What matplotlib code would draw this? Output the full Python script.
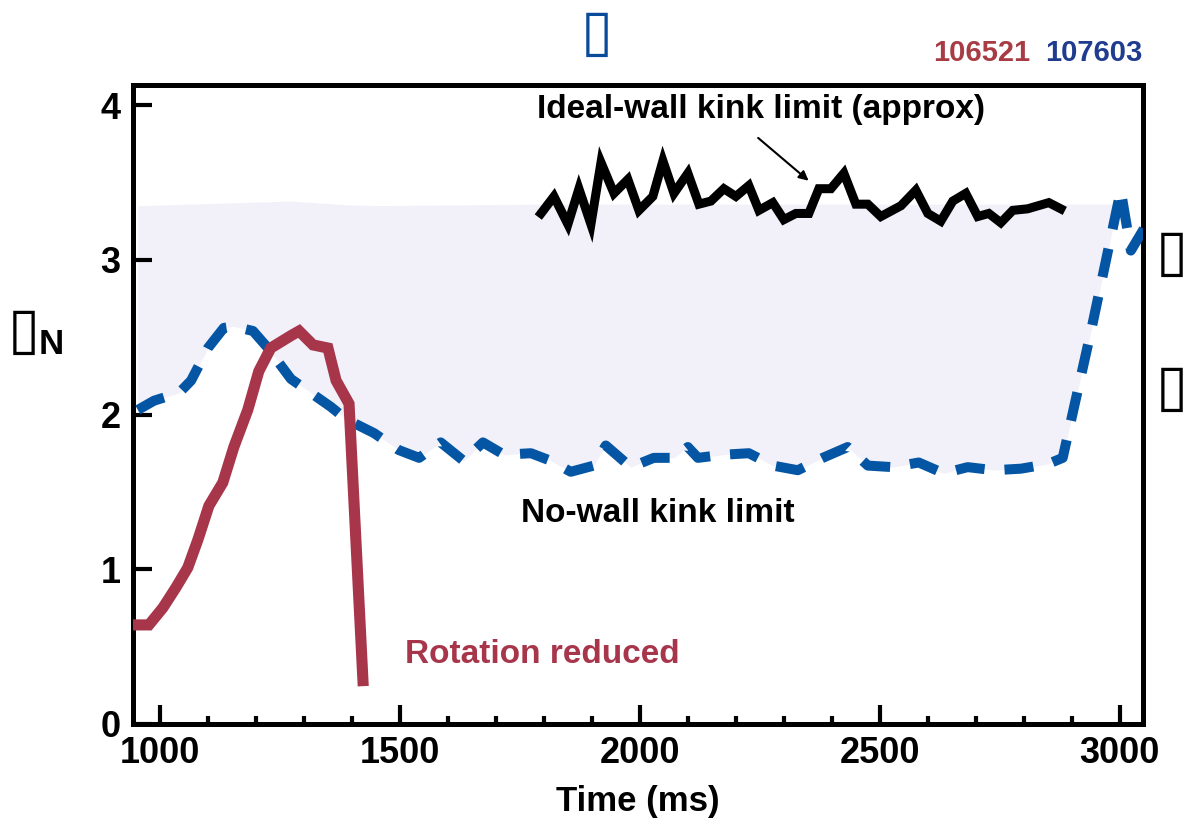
import numpy as np
import matplotlib
matplotlib.use("Agg")
import matplotlib.pyplot as plt
from matplotlib.ticker import MultipleLocator

plt.rcParams['font.family'] = ['Liberation Sans', 'DejaVu Sans']
plt.rcParams['font.weight'] = 'bold'
plt.rcParams['axes.labelweight'] = 'bold'

# no-wall kink limit (shot 107603), blue dashed
nw_t = [954, 988, 1040, 1065, 1100, 1133, 1154, 1194, 1225, 1273, 1310, 1356, 1388,
        1446, 1498, 1540, 1585, 1633, 1673, 1717, 1773, 1815, 1856, 1904, 1929, 1981,
        2029, 2071, 2100, 2121, 2173, 2227, 2277, 2329, 2381, 2433, 2475, 2527, 2581,
        2633, 2683, 2738, 2794, 2850, 2881, 2940, 3002, 3023, 3050]
nw_beta = [2.03, 2.09, 2.14, 2.22, 2.43, 2.56, 2.57, 2.54, 2.43, 2.23, 2.15, 2.05, 1.97,
           1.88, 1.77, 1.72, 1.82, 1.70, 1.82, 1.74, 1.75, 1.70, 1.63, 1.67, 1.80, 1.66,
           1.72, 1.72, 1.79, 1.72, 1.74, 1.75, 1.67, 1.64, 1.72, 1.79, 1.67, 1.66, 1.69,
           1.62, 1.66, 1.64, 1.65, 1.68, 1.72, 2.54, 3.45, 3.06, 3.20]

# ideal-wall kink limit, black
iw_t = [1794, 1821, 1850, 1873, 1898, 1919, 1946, 1975, 1998, 2027, 2048, 2071, 2100,
        2123, 2148, 2175, 2200, 2227, 2248, 2277, 2300, 2325, 2352, 2373, 2398, 2425,
        2450, 2475, 2502, 2544, 2575, 2600, 2627, 2652, 2679, 2704, 2727, 2752, 2777,
        2808, 2852, 2877]
iw_beta = [3.30, 3.41, 3.23, 3.46, 3.23, 3.63, 3.43, 3.52, 3.32, 3.41, 3.64, 3.43, 3.56,
           3.36, 3.38, 3.46, 3.41, 3.48, 3.32, 3.37, 3.26, 3.30, 3.30, 3.46, 3.46, 3.56,
           3.36, 3.36, 3.28, 3.35, 3.45, 3.30, 3.25, 3.38, 3.43, 3.28, 3.30, 3.24, 3.32,
           3.33, 3.37, 3.33]

# shot 106521, rotation reduced, red
rot_t = [950, 977, 1006, 1033, 1058, 1079, 1102, 1131, 1154, 1183, 1206, 1231, 1273,
         1290, 1319, 1350, 1367, 1394, 1423]
rot_beta = [0.64, 0.64, 0.75, 0.88, 1.01, 1.19, 1.41, 1.56, 1.79, 2.03, 2.28, 2.43, 2.51,
            2.54, 2.45, 2.43, 2.22, 2.07, 0.28]

# top of shaded stable window
shade_t = [954, 1273, 1419, 1794, 3002]
shade_top = [3.35, 3.38, 3.35, 3.36, 3.36]

red = '#a8364b'
blue = '#0455a4'

fig = plt.figure(figsize=(11.88, 8.34), dpi=100)
ax = fig.add_axes([0.112, 0.132, 0.850, 0.766])

tt = np.array(nw_t, float)
top = np.interp(tt, shade_t, shade_top)
nb = np.array(nw_beta)
ax.fill_between(tt, nb, top, where=(nb < top) & (tt <= 3000), interpolate=True,
                color='#f2f1fa', lw=0, zorder=1)

ax.plot(nw_t, nw_beta, color=blue, lw=7.2, ls=(0, (2.9, 2.0)), zorder=3)
ax.plot(iw_t, iw_beta, color='black', lw=6.5, solid_joinstyle='miter', zorder=4)
ax.plot(rot_t, rot_beta, color=red, lw=8, solid_joinstyle='miter', zorder=5)

ax.annotate('', xy=(2356, 3.50), xytext=(2242, 3.80),
            arrowprops=dict(arrowstyle='-|>', color='black', lw=1.5, mutation_scale=14))
ax.text(2252, 3.97, 'Ideal-wall kink limit (approx)', ha='center', va='center', fontsize=24)
ax.text(2037, 1.36, 'No-wall kink limit', ha='center', va='center', fontsize=24)
ax.text(1796, 0.45, 'Rotation reduced', ha='center', va='center', fontsize=24, color=red)

ax.set_xlim(944, 3048)
ax.set_ylim(0, 4.13)
ax.xaxis.set_major_locator(MultipleLocator(500))
ax.xaxis.set_minor_locator(MultipleLocator(100))
ax.yaxis.set_major_locator(MultipleLocator(1))
for s in ax.spines.values():
    s.set_linewidth(3.6)
ax.tick_params(axis='both', which='major', direction='in', length=14, width=3,
               labelsize=26, pad=9)
ax.tick_params(axis='x', which='minor', direction='in', length=6, width=3)
ax.tick_params(axis='y', which='minor', length=0)
ax.set_xlabel('Time (ms)', fontsize=25, fontweight='bold', labelpad=10)

# labels whose glyphs did not render in the source
box_kw = dict(fontsize=42, family='DejaVu Sans', fontweight='normal', ha='center', va='center')
fig.text(0.020, 0.603, '\u25af', **box_kw)
fig.text(0.043, 0.587, 'N', fontsize=25, ha='center', va='center')
fig.text(0.502, 0.960, '\u25af', color='#0a4a9a', **box_kw)
fig.text(0.986, 0.696, '\u25af', **box_kw)
fig.text(0.986, 0.534, '\u25af', **box_kw)
fig.text(0.826, 0.937, '106521', fontsize=21, color='#a83c45', ha='center', va='center')
fig.text(0.921, 0.937, '107603', fontsize=21, color='#1f3c8f', ha='center', va='center')

fig.savefig('out.png', dpi=100)
